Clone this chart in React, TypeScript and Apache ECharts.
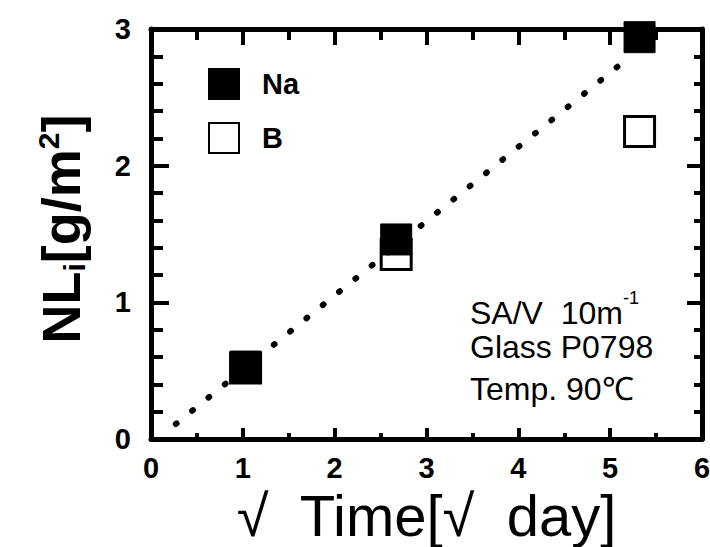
import { useEffect, useRef } from 'react';
import * as echarts from 'echarts';

// Data
const naX = [1.03, 2.67, 5.32];
const naY = [0.53, 1.46, 2.94];
const bX = [1.03, 2.67, 5.32];
const bY = [0.52, 1.35, 2.25];
const fitX = [0.27, 5.22];
const fitY = [0.11, 2.8];
const xTickLabels = ['0', '1', '2', '3', '4', '5', '6'];
const yTickLabels = ['0', '1', '2', '3'];
const seriesNames = ['Na', 'B'];
const noteLines = ['SA/V  10m', 'Glass P0798', 'Temp. 90℃'];

const X_MAX = 6;
const Y_MAX = 3;

const BLACK = '#000';
const NUM_FONT = "'Liberation Sans', Arial, sans-serif";
const FONT = "'Liberation Sans', Arial, Helvetica, sans-serif";

function pairs(xs: number[], ys: number[]) {
  return xs.map((x, i) => [x, ys[i]]);
}

// ticks pointing into the plot on all four sides
function axisBase(tickLen: number, minorLen: number, minorSplit: number) {
  return {
    axisLine: { show: true, onZero: false, lineStyle: { color: BLACK, width: 5 } },
    axisTick: { show: true, inside: true, length: tickLen, lineStyle: { color: BLACK, width: 4 } },
    minorTick: { show: true, splitNumber: minorSplit, length: minorLen, lineStyle: { color: BLACK, width: 4 } },
    splitLine: { show: false },
    minorSplitLine: { show: false },
  };
}

export default function App() {
  const ref = useRef<HTMLDivElement>(null);
  useEffect(() => {
    if (!ref.current) return;
    const chart = echarts.init(ref.current, null, { renderer: 'svg' });
    const option: any = {
      animation: false,
      backgroundColor: '#fff',
      grid: { left: 151, right: 8, top: 29, bottom: 108, containLabel: false, outerBoundsMode: 'none' },
      legend: {
        data: seriesNames,
        orient: 'vertical',
        left: 203,
        top: 63,
        itemWidth: 30,
        itemHeight: 30,
        itemGap: 22,
        selectedMode: false,
        textStyle: { fontFamily: FONT, fontWeight: 'bold', fontSize: 29, color: BLACK, padding: [0, 0, 0, 18] },
      },
      xAxis: [
        {
          type: 'value',
          min: 0,
          max: X_MAX,
          interval: 1,
          position: 'bottom',
          ...axisBase(11, 6, 2),
          axisLabel: {
            margin: 14,
            color: BLACK,
            fontFamily: NUM_FONT,
            fontWeight: 'bold',
            fontSize: 29,
            formatter: (v: number) => xTickLabels[Math.round(v)] ?? '',
          },
          name: '√  Time[√  day]',
          nameLocation: 'middle',
          nameGap: 45,
          nameTextStyle: { fontFamily: FONT, fontSize: 58, lineHeight: 44, color: BLACK },
        },
        {
          type: 'value',
          min: 0,
          max: X_MAX,
          interval: 1,
          position: 'top',
          ...axisBase(16, 11, 2),
          axisLabel: { show: false },
        },
      ],
      yAxis: [
        {
          type: 'value',
          min: 0,
          max: Y_MAX,
          interval: 1,
          position: 'left',
          ...axisBase(18, 12, 5),
          axisLabel: {
            margin: 20,
            color: BLACK,
            fontFamily: NUM_FONT,
            fontWeight: 'bold',
            fontSize: 29,
            formatter: (v: number) => yTickLabels[Math.round(v)] ?? '',
          },
          name: '{a|NL}{sub|i}{a|[g/m}{sup|2}{a|]}',
          nameLocation: 'middle',
          nameRotate: 90,
          nameGap: 62,
          nameTextStyle: {
            lineHeight: 90,
            padding: [0, 0, 0, 10],
            rich: {
              a: { fontFamily: FONT, fontWeight: 'bold', fontSize: 54, lineHeight: 54, color: BLACK },
              sub: { fontFamily: FONT, fontWeight: 'bold', fontSize: 30, lineHeight: 30, verticalAlign: 'bottom', color: BLACK },
              sup: { fontFamily: FONT, fontWeight: 'bold', fontSize: 30, lineHeight: 56, verticalAlign: 'top', color: BLACK },
            },
          },
        },
        {
          type: 'value',
          min: 0,
          max: Y_MAX,
          interval: 1,
          position: 'right',
          ...axisBase(15, 8, 5),
          axisLabel: { show: false },
        },
      ],
      graphic: [
        {
          type: 'text',
          left: 470,
          top: 289,
          style: {
            text: '{m|' + noteLines[0] + '}{s|-1}',
            rich: {
              m: { fontFamily: FONT, fontSize: 32, lineHeight: 40, fill: BLACK, verticalAlign: 'bottom' },
              s: { fontFamily: FONT, fontSize: 18, lineHeight: 40, fill: BLACK, verticalAlign: 'top' },
            },
          },
        },
        {
          type: 'text',
          left: 470,
          top: 331,
          style: { text: noteLines[1], font: `32px ${FONT}`, fill: BLACK },
        },
        {
          type: 'text',
          left: 470,
          top: 373,
          style: { text: noteLines[2], font: `32px ${FONT}`, fill: BLACK },
        },
      ],
      series: [
        {
          type: 'line',
          name: 'fit',
          data: pairs(fitX, fitY),
          showSymbol: false,
          symbol: 'none',
          silent: true,
          lineStyle: { color: BLACK, width: 6, type: [1, 20], cap: 'round' },
        },
        {
          type: 'scatter',
          name: seriesNames[1],
          data: pairs(bX, bY),
          symbol: 'rect',
          symbolSize: 30,
          itemStyle: { color: '#fff', borderColor: BLACK, borderWidth: 3, opacity: 1 },
        },
        {
          type: 'scatter',
          name: seriesNames[0],
          data: pairs(naX, naY),
          symbol: 'rect',
          symbolSize: 31,
          itemStyle: { color: BLACK, borderColor: BLACK, borderWidth: 1, opacity: 1 },
        },
      ],
    };
    chart.setOption(option);
    return () => chart.dispose();
  }, []);
  return (
    <div
      ref={ref}
      style={{ position: 'fixed', left: 0, top: 0, width: 710, height: 547, background: '#fff' }}
    />
  );
}
